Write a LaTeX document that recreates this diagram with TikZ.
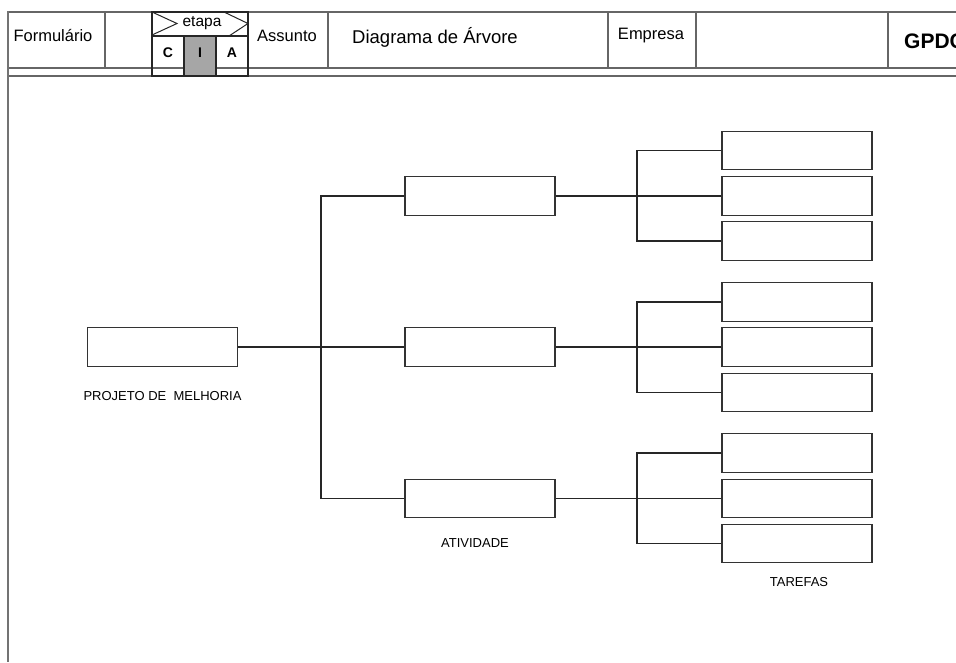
\documentclass[tikz,border=0pt]{standalone}
\usepackage{fontspec}
\setmainfont{Liberation Sans}
\begin{document}
\begin{tikzpicture}[x=1pt,y=-1pt,
  hdr/.style={draw=black!60,line width=1.2pt},
  conn/.style={draw=black!85,line width=1.2pt},
  leafbox/.style={draw=black!80,line width=1.2pt,minimum width=150pt,minimum height=38.5pt,inner sep=0pt},
  lbl/.style={font=\fontsize{13}{15}\selectfont,inner sep=0pt},
  htxt/.style={font=\fontsize{16.5}{18}\selectfont,inner sep=0pt},
  ctxt/.style={font=\fontsize{14}{16}\selectfont\bfseries,inner sep=0pt}]
\useasboundingbox (0,0) rectangle (956,662);
\clip (0,0) rectangle (956,662);
% header frame
\draw[hdr] (8,12) -- (960,12);
\draw[hdr] (8,68) -- (960,68);
\draw[hdr] (8,76) -- (960,76);
\draw[draw=black!55,line width=2pt] (8,11.4) -- (8,662);
\foreach \x in {105,328,608,696,888}{\draw[hdr] (\x,12) -- (\x,68);}
% etapa box
\fill[black!35] (184,36) rectangle (216,76);
\draw[draw=black!85,line width=1.2pt] (152,12) rectangle (248,76);
\draw[draw=black!85,line width=1.2pt] (152,36) -- (248,36);
\draw[draw=black!85,line width=1.2pt] (184,36) -- (184,76) (216,36) -- (216,76);
\draw[draw=black!85,line width=1pt] (152,12) -- (177,23.5) -- (152,35);
\draw[draw=black!85,line width=1pt] (224,12) -- (248,23.5) -- (229,36);
\node[font=\fontsize{15.5}{17}\selectfont,inner sep=0pt] (etapa) at (202,23) {etapa};
\node[ctxt] (cC) at (168,53) {C};
\node[ctxt] (cI) at (200,53) {I};
\node[ctxt] (cA) at (232,53) {A};
% header texts
\node[htxt] (form) at (53,36) {Formulário};
\node[htxt] (assunto) at (287,36) {Assunto};
\node[font=\fontsize{18.5}{20}\selectfont,inner sep=0pt] (titulo) at (435,37) {Diagrama de Árvore};
\node[htxt] (empresa) at (651,36) {Empresa};
\node[font=\fontsize{21}{23}\selectfont\bfseries,inner sep=0pt,anchor=west] (gpdc) at (904,41) {GPDC};
% tree
\node[leafbox] (root) at (162.5,347) {};
\node[lbl] (lroot) at (162.5,396) {PROJETO DE \ MELHORIA};
\node[leafbox] (m1) at (480,196) {};
\node[leafbox] (m2) at (480,347) {};
\node[leafbox] (m3) at (480,498.5) {};
\node[lbl] (lmid) at (475,543) {ATIVIDADE};
\node[leafbox] (l11) at (797,150.5) {};
\node[leafbox] (l12) at (797,196) {};
\node[leafbox] (l13) at (797,241) {};
\node[leafbox] (l21) at (797,302) {};
\node[leafbox] (l22) at (797,347) {};
\node[leafbox] (l23) at (797,392.5) {};
\node[leafbox] (l31) at (797,453) {};
\node[leafbox] (l32) at (797,498.5) {};
\node[leafbox] (l33) at (797,543.5) {};
\node[lbl] (lleaf) at (799,582) {TAREFAS};
\coordinate (j0) at (321,347);
\coordinate (g1) at (637,196);
\coordinate (g2) at (637,347);
\coordinate (g3) at (637,498.5);
\draw[conn] (root.east) -- (j0);
\draw[conn] (m1.west) -| (j0);
\draw[conn] (m2.west) -- (j0);
\draw[conn] (m3.west) -| (j0);
\draw[conn] (m1.east) -- (g1);
\draw[conn] (m2.east) -- (g2);
\draw[conn] (m3.east) -- (g3);
\draw[conn] (l11.west) -| (g1);
\draw[conn] (l12.west) -- (g1);
\draw[conn] (l13.west) -| (g1);
\draw[conn] (l21.west) -| (g2);
\draw[conn] (l22.west) -- (g2);
\draw[conn] (l23.west) -| (g2);
\draw[conn] (l31.west) -| (g3);
\draw[conn] (l32.west) -- (g3);
\draw[conn] (l33.west) -| (g3);
\end{tikzpicture}
\end{document}
